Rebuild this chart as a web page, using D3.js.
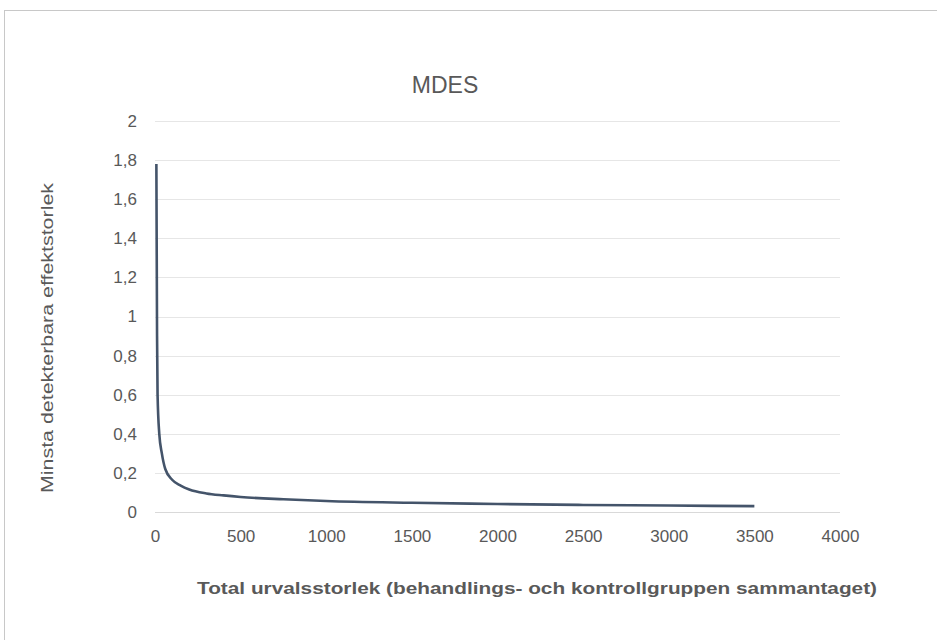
<!DOCTYPE html>
<html lang="sv">
<head>
    <meta charset="UTF-8">
    <title>MDES</title>
    <script src="https://d3js.org/d3.v7.min.js"></script>
</head>
<style>
    * {
        margin: 0;
        padding: 0;
    }
    body {
        background: #fff;
    }
    svg {
        display: block;
        font-family: "Liberation Sans", Arial, sans-serif;
    }
    .grid line {
        stroke: #e6e6e6;
        stroke-width: 1;
    }
    .tick text {
        fill: #595959;
        font-size: 17px;
        font-family: "Liberation Sans Narrow", "Liberation Sans", Arial, sans-serif;
    }
</style>
<body>
<script>
    // total sample size and MDES
    var sampleSize = [8, 12, 15, 25, 40, 60, 100, 150, 200, 300, 400, 500, 750, 1000, 1500, 2000, 2500, 3000, 3500];
    var mdes = [1.78, 0.9, 0.6, 0.4, 0.3, 0.22, 0.165, 0.135, 0.115, 0.095, 0.085, 0.077, 0.065, 0.056, 0.047, 0.041, 0.036, 0.033, 0.03];
    var xTicks = [0, 500, 1000, 1500, 2000, 2500, 3000, 3500, 4000];
    var yTicks = [0, 0.2, 0.4, 0.6, 0.8, 1, 1.2, 1.4, 1.6, 1.8, 2];

    var width = 937, height = 640;
    var plotLeft = 155, plotRight = 840, plotTop = 121, plotBottom = 512;

    var svg = d3.select("body")
        .append("svg")
        .attr("width", width)
        .attr("height", height);

    // chart frame
    svg.append("rect")
        .attr("x", 4.5)
        .attr("y", 10.5)
        .attr("width", 960)
        .attr("height", 700)
        .attr("fill", "#fff")
        .attr("stroke", "#c8c8c8");

    var x = d3.scaleLinear().domain([0, 4000]).range([plotLeft, plotRight]);
    var y = d3.scaleLinear().domain([0, 2]).range([plotBottom, plotTop]);

    var fmt = function(d) { return d3.format("~g")(d).replace(".", ","); };

    svg.append("g")
        .attr("class", "grid")
        .selectAll("line")
        .data(yTicks)
        .enter()
        .append("line")
        .attr("x1", plotLeft)
        .attr("x2", plotRight)
        .attr("y1", function(d) { return Math.round(y(d)) + 0.5; })
        .attr("y2", function(d) { return Math.round(y(d)) + 0.5; })
        .style("stroke", function(d) { return d === 0 ? "#d9d9d9" : null; });

    var yAxis = svg.append("g")
        .attr("transform", "translate(" + (plotLeft - 18) + ",0)")
        .call(d3.axisLeft(y).tickValues(yTicks).tickFormat(fmt).tickSize(0).tickPadding(0));
    yAxis.select(".domain").remove();

    var xAxis = svg.append("g")
        .attr("transform", "translate(0," + (plotBottom + 18) + ")")
        .call(d3.axisBottom(x).tickValues(xTicks).tickFormat(d3.format("d")).tickSize(0).tickPadding(0));
    xAxis.select(".domain").remove();

    var data = sampleSize.map(function(n, i) { return {n: n, v: mdes[i]}; });

    var line = d3.line()
        .x(function(d) { return x(d.n); })
        .y(function(d) { return y(d.v); })
        .curve(d3.curveMonotoneX);

    svg.append("path")
        .datum(data)
        .attr("d", line)
        .attr("fill", "none")
        .attr("stroke", "#44546a")
        .attr("stroke-width", 2.6)
        .attr("stroke-linecap", "butt");

    // title
    svg.append("text")
        .attr("x", 445)
        .attr("y", 93)
        .attr("text-anchor", "middle")
        .attr("fill", "#595959")
        .style("font-size", "23px")
        .text("MDES");

    // x axis title
    svg.append("text")
        .attr("x", 537)
        .attr("y", 594)
        .attr("text-anchor", "middle")
        .attr("fill", "#595959")
        .style("font-size", "17px")
        .style("font-weight", "bold")
        .attr("textLength", 680)
        .attr("lengthAdjust", "spacingAndGlyphs")
        .text("Total urvalsstorlek (behandlings- och kontrollgruppen sammantaget)");

    // y axis title
    svg.append("text")
        .attr("transform", "translate(53,338) rotate(-90)")
        .attr("text-anchor", "middle")
        .attr("fill", "#595959")
        .style("font-size", "17px")
        .attr("textLength", 310)
        .attr("lengthAdjust", "spacingAndGlyphs")
        .text("Minsta detekterbara effektstorlek");
</script>
</body>
</html>
